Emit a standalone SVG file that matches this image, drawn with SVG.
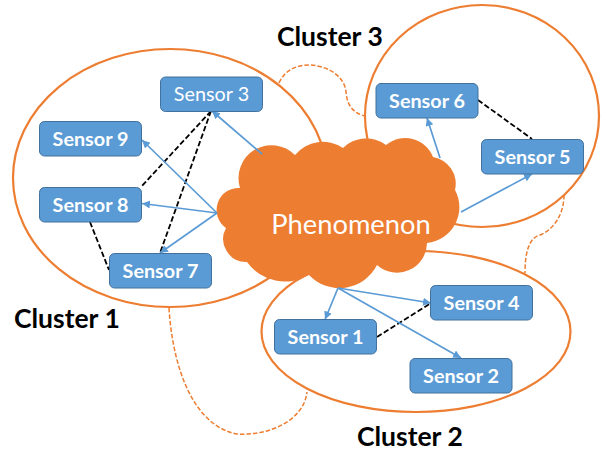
<svg xmlns="http://www.w3.org/2000/svg" width="605" height="453" viewBox="0 0 605 453">
<style>
.cluster{fill:none;stroke:#ED7D31;stroke-width:2.2}
.box{fill:#5B9BD5;stroke:#41719C;stroke-width:1}
.st{font:bold 19.8px Lato,"Open Sans",sans-serif;fill:#fff;text-anchor:middle}
.lab{font:bold 26.5px Lato,"Open Sans",sans-serif;fill:#000}
.arrow{stroke:#5B9BD5;stroke-width:1.7;fill:none;marker-end:url(#ah)}
.dash{stroke:#000;stroke-width:1.8;stroke-dasharray:5.5 2.5;fill:none}
.link{stroke:#ED7D31;stroke-width:1.5;stroke-dasharray:4.5 2;fill:none}
</style>
<defs><marker id="ah" markerUnits="userSpaceOnUse" markerWidth="10" markerHeight="10" refX="8" refY="4" orient="auto"><path d="M0,0L8,4L0,8Z" fill="#5B9BD5"/></marker></defs>
<rect width="605" height="453" fill="#fff"/>
<g id="clusters">
<ellipse id="cluster-1" class="cluster" cx="170" cy="178" rx="157" ry="129"/>
<ellipse id="cluster-2" class="cluster" cx="416" cy="331.5" rx="154.5" ry="80.5"/>
<ellipse id="cluster-3" class="cluster" cx="482" cy="116" rx="117" ry="111"/>
</g>
<g id="connectors">
<path class="link" d="M279,83C285,70 296,65 310,65C330,66 345,78 346,92C347,104 352,113 365,116"/>
<path class="link" d="M564,195C564,215 553,230 540,235C528,238 525,255 525,273"/>
<path class="link" d="M169,308C172,360 190,425 237,434C270,436 304,420 307,392"/>
<path class="dash" d="M211,111L141,187"/>
<path class="dash" d="M211,111L160,253"/>
<path class="dash" d="M90,222L109,270"/>
<path class="dash" d="M478,100L532,139"/>
<path class="dash" d="M377,337L431,303"/>
</g>
<g id="phenomenon">
<path fill="#ED7D31" d="M240,188A33,33 0 0 1 295,155A36,36 0 0 1 343,148A33,33 0 0 1 386,145A30,30 0 0 1 433,157A27,27 0 0 1 455,190A36,36 0 0 1 427,243A30,30 0 0 1 377,265A42,42 0 0 1 309,275A47,47 0 0 1 247,262A23,23 0 0 1 226,228A22,22 0 0 1 240,188Z"/>
<text x="351" y="234" font-family="Lato,'Open Sans',sans-serif" font-size="27.3" fill="#fff" text-anchor="middle">Phenomenon</text>
</g>
<g id="arrows">
<path class="arrow" d="M262,154L212,111"/>
<path class="arrow" d="M217,213L142,140"/>
<path class="arrow" d="M217,213L142,203.5"/>
<path class="arrow" d="M217,213L160,253"/>
<path class="arrow" d="M440,158L427,118"/>
<path class="arrow" d="M461,212L532,174"/>
<path class="arrow" d="M338,288L431,303"/>
<path class="arrow" d="M338,288L325,319.5"/>
<path class="arrow" d="M338,288L461,358"/>
</g>
<g id="sensor-3"><rect class="box" x="160.5" y="77" width="102" height="34.5" rx="5"/><text class="st" x="211.5" y="100.5" style="font-weight:400">Sensor 3</text></g>
<g id="sensor-9"><rect class="box" x="39.5" y="121.5" width="102" height="34.5" rx="5"/><text class="st" x="90.5" y="145.5">Sensor 9</text></g>
<g id="sensor-8"><rect class="box" x="39.5" y="187.5" width="102" height="34.5" rx="5"/><text class="st" x="90.5" y="211.5">Sensor 8</text></g>
<g id="sensor-7"><rect class="box" x="109.5" y="253.5" width="102" height="34.5" rx="5"/><text class="st" x="160.5" y="277.5">Sensor 7</text></g>
<g id="sensor-6"><rect class="box" x="376" y="83.5" width="102" height="34.5" rx="5"/><text class="st" x="427" y="107.5">Sensor 6</text></g>
<g id="sensor-5"><rect class="box" x="481.5" y="139.5" width="102" height="34.5" rx="5"/><text class="st" x="532.5" y="163.5">Sensor 5</text></g>
<g id="sensor-4"><rect class="box" x="430.5" y="285.5" width="102" height="34.5" rx="5"/><text class="st" x="481.5" y="309.5">Sensor 4</text></g>
<g id="sensor-1"><rect class="box" x="274.5" y="319.5" width="102" height="34.5" rx="5"/><text class="st" x="325.5" y="343.5">Sensor 1</text></g>
<g id="sensor-2"><rect class="box" x="410" y="358.5" width="102" height="34.5" rx="5"/><text class="st" x="461" y="382.5">Sensor 2</text></g>
<g id="labels">
<text class="lab" x="277" y="46">Cluster 3</text>
<text class="lab" x="14" y="328">Cluster 1</text>
<text class="lab" x="357" y="446">Cluster 2</text>
</g>
</svg>
